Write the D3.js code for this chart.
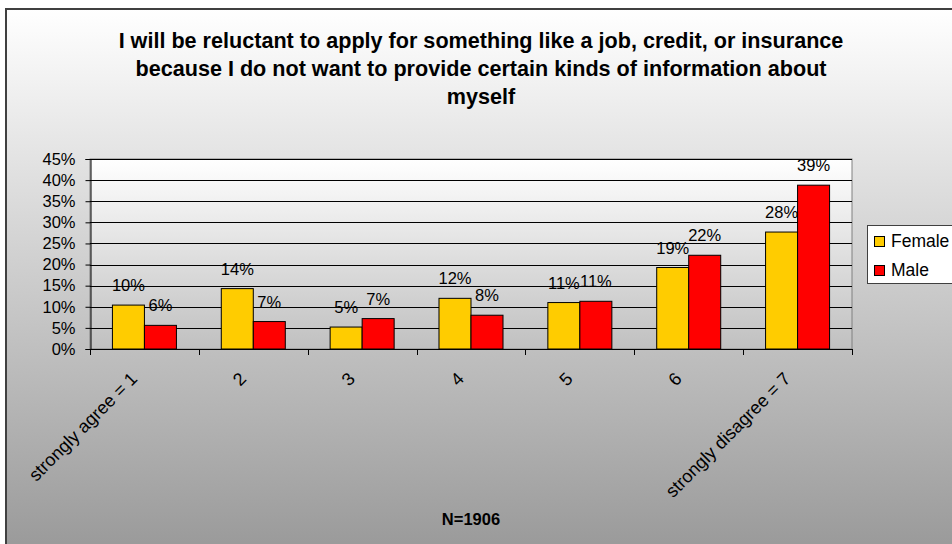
<!DOCTYPE html>
<html lang="en"><head>
<meta charset="utf-8">
<title>Reluctant to apply</title>
<script src="https://cdnjs.cloudflare.com/ajax/libs/d3/7.8.5/d3.min.js"></script>
<style>
  body { margin: 0; background: #fff; }
  svg text { font-family: "Liberation Sans", Arial, sans-serif; fill: #000; }
</style>
</head>
<body>
<svg id="chart" width="952" height="544"></svg>
<script>
// values (percent)
var categories = ["strongly agree = 1", "2", "3", "4", "5", "6", "strongly disagree = 7"];
var series = ["Female", "Male"];
var female = [10.4, 14.3, 5.2, 12.0, 11.0, 19.3, 27.7];
var male = [5.6, 6.5, 7.2, 8.0, 11.3, 22.2, 38.8];
var yTicks = [0, 5, 10, 15, 20, 25, 30, 35, 40, 45];
var titleLines = [
  "I will be reluctant to apply for something like a job, credit, or insurance",
  "because I do not want to provide certain kinds of information about",
  "myself"
];
var footnote = "N=1906";
var colors = { Female: "#ffcc00", Male: "#ff0000" };

var svg = d3.select("#chart");
var defs = svg.append("defs");

var bgGrad = defs.append("linearGradient").attr("id", "bg")
  .attr("x1", 0).attr("y1", 0).attr("x2", 0).attr("y2", 1);
bgGrad.append("stop").attr("offset", "0%").attr("stop-color", "#ffffff");
bgGrad.append("stop").attr("offset", "100%").attr("stop-color", "#969696");

var plotGrad = defs.append("linearGradient").attr("id", "plotbg")
  .attr("x1", 0).attr("y1", 0).attr("x2", 0).attr("y2", 1);
plotGrad.append("stop").attr("offset", "0%").attr("stop-color", "#ffffff");
plotGrad.append("stop").attr("offset", "100%").attr("stop-color", "#c0c0c0");

// chart area, runs off the right and bottom edges like the original
svg.append("rect")
  .attr("x", 6).attr("y", 9).attr("width", 960).attr("height", 560)
  .attr("fill", "url(#bg)")
  .attr("stroke", "#404040").attr("stroke-width", 2);

var pLeft = 90, pRight = 852, pTop = 159, pBottom = 349;

var y = d3.scaleLinear().domain([0, 45]).range([pBottom, pTop]);
var xCat = d3.scaleBand().domain(categories).range([pLeft, pRight]);
var x0 = d3.scaleBand().domain(categories).range([pLeft, pRight])
  .paddingInner(0.412).paddingOuter(0.206);
var x1 = d3.scaleBand().domain(series).range([0, x0.bandwidth()]);

svg.append("rect")
  .attr("x", pLeft).attr("y", pTop)
  .attr("width", pRight - pLeft).attr("height", pBottom - pTop)
  .attr("fill", "url(#plotbg)")
  .attr("stroke", "#808080").attr("stroke-width", 1);

// gridlines
svg.append("g").selectAll("line")
  .data(yTicks.filter(function(d) { return d > 0; }))
  .enter().append("line")
  .attr("x1", pLeft).attr("x2", pRight)
  .attr("y1", function(d) { return Math.round(y(d)) + 0.5; })
  .attr("y2", function(d) { return Math.round(y(d)) + 0.5; })
  .attr("stroke", "#000").attr("stroke-width", 1);

// y axis
var yAxis = d3.axisLeft(y).tickValues(yTicks)
  .tickFormat(function(d) { return d + "%"; })
  .tickSize(5).tickPadding(10);
var gy = svg.append("g").attr("transform", "translate(" + (pLeft + 0.5) + ",0)").call(yAxis);
gy.select(".domain").attr("stroke", "#000");
gy.selectAll(".tick line").attr("stroke", "#000");
gy.selectAll(".tick text").attr("font-size", 16.5).attr("fill", "#000")
  .attr("font-family", "Liberation Sans, Arial, sans-serif");

// x axis line and ticks at category borders
svg.append("line")
  .attr("x1", pLeft).attr("x2", pRight)
  .attr("y1", pBottom + 0.5).attr("y2", pBottom + 0.5)
  .attr("stroke", "#000");
var borders = categories.map(function(c) { return xCat(c); }).concat([pRight]);
svg.append("g").selectAll("line").data(borders).enter().append("line")
  .attr("x1", function(d) { return Math.round(d) + 0.5; })
  .attr("x2", function(d) { return Math.round(d) + 0.5; })
  .attr("y1", pBottom).attr("y2", pBottom + 6)
  .attr("stroke", "#000");

// bars
var rows = categories.map(function(c, i) {
  return { cat: c, vals: [{ s: "Female", v: female[i] }, { s: "Male", v: male[i] }] };
});
var groups = svg.append("g").selectAll("g").data(rows).enter().append("g")
  .attr("transform", function(d) { return "translate(" + x0(d.cat) + ",0)"; });

groups.selectAll("rect").data(function(d) { return d.vals; }).enter().append("rect")
  .attr("x", function(d) { return x1(d.s); })
  .attr("y", function(d) { return y(d.v); })
  .attr("width", x1.bandwidth())
  .attr("height", function(d) { return pBottom - y(d.v); })
  .attr("fill", function(d) { return colors[d.s]; })
  .attr("stroke", "#000").attr("stroke-width", 1);

groups.selectAll("text").data(function(d) { return d.vals; }).enter().append("text")
  .attr("x", function(d) { return x1(d.s) + x1.bandwidth() / 2; })
  .attr("y", function(d) { return y(d.v) - 14; })
  .attr("text-anchor", "middle")
  .attr("font-size", 16.5)
  .text(function(d) { return Math.round(d.v) + "%"; });

// rotated category labels
svg.append("g").selectAll("text").data(categories).enter().append("text")
  .attr("text-anchor", "end")
  .attr("font-size", 18)
  .attr("transform", function(d) {
    var cx = xCat(d) + xCat.bandwidth() / 2;
    return "translate(" + (cx - 6) + "," + (pBottom + 31) + ") rotate(-45)";
  })
  .text(function(d) { return d; });

// title
svg.append("g").selectAll("text").data(titleLines).enter().append("text")
  .attr("x", 481)
  .attr("y", function(d, i) { return 48 + i * 28; })
  .attr("text-anchor", "middle")
  .attr("font-size", 21.6).attr("font-weight", "bold")
  .text(function(d) { return d; });

svg.append("text")
  .attr("x", (pLeft + pRight) / 2).attr("y", 525)
  .attr("text-anchor", "middle")
  .attr("font-size", 16.5).attr("font-weight", "bold")
  .text(footnote);

// legend
var legend = svg.append("g");
legend.append("rect")
  .attr("x", 867.5).attr("y", 225.5).attr("width", 100).attr("height", 58)
  .attr("fill", "#fff").attr("stroke", "#404040");
var items = legend.selectAll("g").data(series).enter().append("g")
  .attr("transform", function(d, i) { return "translate(874," + (236 + i * 29) + ")"; });
items.append("rect")
  .attr("x", 0.5).attr("y", 0.5).attr("width", 10).attr("height", 10)
  .attr("fill", function(d) { return colors[d]; })
  .attr("stroke", "#000");
items.append("text")
  .attr("x", 17).attr("y", 11)
  .attr("font-size", 17.5)
  .text(function(d) { return d; });
</script>
</body></html>
